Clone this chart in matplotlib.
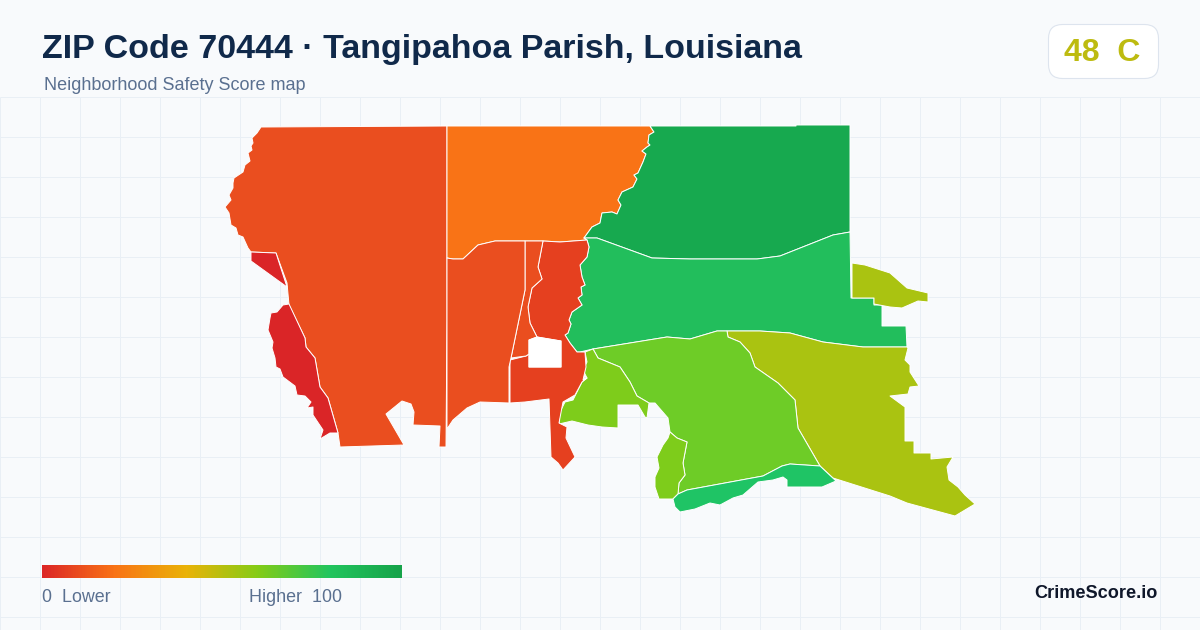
#!/usr/bin/env python3
# ZIP 70444 safety score map card, 1200x630
import numpy as np
import matplotlib
matplotlib.use('Agg')
import matplotlib.pyplot as plt
from matplotlib.colors import LinearSegmentedColormap
from matplotlib.patches import FancyBboxPatch, Polygon

plt.rcParams['font.family'] = ['Liberation Sans', 'DejaVu Sans']

TITLE = 'ZIP Code 70444 · Tangipahoa Parish, Louisiana'
SUBTITLE = 'Neighborhood Safety Score map'
SCORE = '48  C'
BRAND = 'CrimeScore.io'

# colour ramp of the legend
ramp_stops = [0.0, 0.2, 0.4, 0.6, 0.8, 1.0]
ramp_colors = ['#dc2626', '#f97316', '#eab308', '#84cc16', '#22c55e', '#16a34a']

# shared borders (x, y in image pixels)
edge_north_east = [(650, 126), (654, 132), (649, 135), (648, 143), (650, 145), (647, 147), (642, 151),
                   (646, 154), (643, 162), (638, 173), (634, 175), (637, 179), (633, 187), (622, 192),
                   (618, 200), (621, 205), (617, 214), (612, 212), (602, 213), (600, 223), (592, 227),
                   (584, 238)]
edge_ne_mid = [(584, 238), (597, 238), (652, 258), (690, 259), (723, 259), (757, 259), (780, 256),
               (833, 235), (850, 232)]
edge_mid_south = [(580, 352), (593, 349), (667, 337), (690, 339), (717, 331), (727, 331), (760, 331),
                  (790, 333), (823, 342), (863, 347), (877, 347), (907, 347)]
edge_mid_west = [(587, 240), (589, 247), (587, 257), (580, 265), (582, 277), (585, 285), (581, 287),
                 (582, 295), (578, 298), (582, 305), (572, 312), (569, 320), (571, 324), (568, 333),
                 (565, 335), (570, 343), (577, 352), (580, 352)]
edge_center_olive = [(727, 331), (728, 337), (740, 342), (750, 353), (755, 367), (778, 383), (795, 400),
                     (798, 428), (820, 466)]
edge_center_left = [(593, 349), (598, 358), (620, 367), (630, 382), (637, 396), (649, 403)]
edge_south_top = [(673, 499), (678, 494), (687, 490), (763, 476), (782, 466), (790, 464), (820, 466)]
edge_pocket = [(670, 432), (677, 438), (687, 442), (683, 463), (685, 475), (679, 483), (678, 494)]
edge_blob = [(543, 241), (538, 267), (542, 279), (532, 288), (528, 307), (530, 323), (537, 337)]
edge_north_south = [(447, 258), (453, 259), (463, 259), (478, 245), (495, 241), (525, 241), (543, 241),
                    (560, 242), (587, 240)]

# area outlines
west_area = [(261, 127), (447, 126), (447, 320), (446, 447), (439, 447), (440, 426), (413, 425), (414, 412),
             (411, 404), (402, 401), (386, 414), (404, 445), (340, 447), (338, 433), (328, 398), (320, 387),
             (315, 358), (306, 347), (305, 338), (289, 305), (287, 283), (276, 253), (251, 252), (248, 248),
             (243, 237), (238, 235), (236, 228), (231, 225), (229, 213), (225, 207), (231, 200), (229, 195),
             (233, 188), (233, 183), (234, 178), (243, 172), (245, 165), (250, 161), (248, 153), (252, 150),
             (251, 146), (253, 143), (252, 138), (257, 133)]
north_area = [(447, 126)] + edge_north_east + edge_north_south[::-1]
north_east_area = edge_north_east + edge_ne_mid + [(850, 125), (796, 125), (796, 126)]
middle_area = edge_ne_mid + [(851, 298), (874, 298), (874, 305), (882, 305), (882, 326), (906, 326)] \
    + edge_mid_south[::-1] + edge_mid_west[::-1]
olive_area = edge_center_olive + [(833, 478), (890, 496), (907, 503), (918, 506), (955, 516), (975, 504),
                                  (965, 495), (958, 487), (949, 480), (947, 467), (953, 457), (931, 459),
                                  (931, 453), (914, 453), (914, 441), (905, 441), (905, 407), (890, 396),
                                  (908, 394), (910, 387), (919, 386), (910, 372), (910, 365), (905, 360),
                                  (908, 348), (907, 347), (877, 347), (863, 347), (823, 342), (790, 333),
                                  (760, 331)]
olive_small_area = [(852, 263), (865, 265), (890, 273), (907, 288), (928, 293), (928, 302), (918, 301),
                    (902, 308), (890, 307), (874, 304), (874, 298), (852, 298)]
center_area = edge_mid_south[1:6] + edge_center_olive + edge_south_top[::-1][1:-2] + edge_pocket[::-1] \
    + [(668, 418), (655, 403)] + edge_center_left[::-1]
left_area = [(585, 352)] + edge_center_left + [(647, 418), (645, 417), (638, 405), (618, 405), (618, 428),
                                               (602, 427), (588, 425), (572, 421), (559, 424), (560, 412),
                                               (565, 402), (573, 400), (582, 382), (587, 378), (583, 370),
                                               (587, 362)]
pocket_area = edge_pocket + [(673, 499), (659, 499), (655, 487), (655, 477), (659, 468), (657, 457),
                             (663, 445), (668, 438)]
south_area = edge_south_top + [(836, 481), (822, 487), (787, 487), (787, 480), (783, 477), (773, 480),
                               (758, 482), (743, 495), (733, 498), (720, 505), (710, 503), (695, 509),
                               (680, 512), (675, 507)]
red_center_area = edge_blob[::-1] + [(560, 242)] + edge_mid_west + [(585, 352), (586, 367), (583, 380),
                                                                     (587, 378), (582, 382), (575, 395),
                                                                     (563, 402), (559, 423), (567, 427),
                                                                     (566, 438), (575, 457), (563, 470),
                                                                     (558, 463), (551, 457), (549, 399),
                                                                     (525, 402), (510, 403), (510, 360),
                                                                     (526, 356), (529, 354), (529, 367),
                                                                     (561, 367), (561, 341)]
strip_area = [(525, 241)] + edge_blob + [(529, 340), (529, 354), (526, 356), (511, 358), (525, 290)]
west_mid_area = edge_north_south[:6] + [(525, 290), (511, 358), (509, 367), (509, 403), (480, 402),
                                        (467, 408), (453, 420), (447, 429)]
red_triangle_area = [(251, 252), (276, 253), (287, 287), (251, 261)]
red_strip_area = [(289, 304), (305, 338), (306, 347), (315, 358), (320, 387), (328, 398), (338, 433),
                  (330, 433), (320, 439), (323, 430), (313, 415), (313, 407), (307, 408), (311, 402),
                  (305, 396), (297, 395), (295, 386), (283, 377), (280, 369), (276, 367), (275, 358),
                  (272, 348), (273, 342), (268, 330), (270, 318), (271, 313), (277, 312), (283, 305)]
hole_area = [(529, 340), (537, 337), (561, 341), (561, 367), (529, 367)]

areas = [
    (west_area, '#ea4e1f'), (north_area, '#f97316'), (north_east_area, '#17a94f'),
    (middle_area, '#22be5c'), (olive_area, '#aac311'), (olive_small_area, '#aac311'),
    (center_area, '#6ecc27'), (left_area, '#7ecc1b'), (pocket_area, '#7ecc1b'),
    (south_area, '#1fc465'), (red_center_area, '#e5401f'), (strip_area, '#ea4e1f'),
    (west_mid_area, '#ea4e1f'), (red_triangle_area, '#da2527'), (red_strip_area, '#da2527'),
    (hole_area, '#ffffff'),
]

fig = plt.figure(figsize=(12, 6.3), dpi=100, facecolor='#f8fafc')
ax = fig.add_axes([0, 0, 1, 1])
ax.set_xlim(0, 1200)
ax.set_ylim(630, 0)
ax.axis('off')

# background grid, below the header only
ax.vlines(np.arange(0, 1200, 40), 97, 630, color='#e9eff5', lw=0.72, zorder=1)
ax.hlines(np.arange(97, 630, 40), 0, 1200, color='#e9eff5', lw=0.72, zorder=1)

for outline, color in areas:
    ax.add_patch(Polygon(outline, closed=True, facecolor=color, edgecolor='#ffffff',
                         lw=0.7, joinstyle='round', zorder=2))

# header
ax.text(42, 49.5, TITLE, fontsize=24.46, fontweight='bold', color='#10294a', va='center', ha='left')
ax.text(44, 86, SUBTITLE, fontsize=12.95, color='#5a7090', va='center', ha='left')

# score badge
ax.add_patch(FancyBboxPatch((1048.5, 24.5), 110, 54, boxstyle='round,pad=0,rounding_size=14', fc='#ffffff',
                            ec='#dde4ee', lw=0.8, zorder=3))
ax.text(1102, 53, SCORE, fontsize=23, fontweight='bold', color='#bdbb10', va='center', ha='center', zorder=4)

# legend
ramp = LinearSegmentedColormap.from_list('score', list(zip(ramp_stops, ramp_colors)))
ax.imshow(np.linspace(0, 1, 360).reshape(1, -1), cmap=ramp, extent=(42, 402, 578, 565), aspect='auto', zorder=3)
ax.set_xlim(0, 1200)
ax.set_ylim(630, 0)
ax.text(42, 598, '0  Lower', fontsize=12.9, color='#5a7090', va='center', ha='left')
ax.text(249, 598, 'Higher  100', fontsize=12.9, color='#5a7090', va='center', ha='left')

ax.text(1158, 593.5, BRAND, fontsize=13.07, fontweight='bold', color='#0f172a', va='center', ha='right')

fig.savefig('out.png', dpi=100, facecolor=fig.get_facecolor())
